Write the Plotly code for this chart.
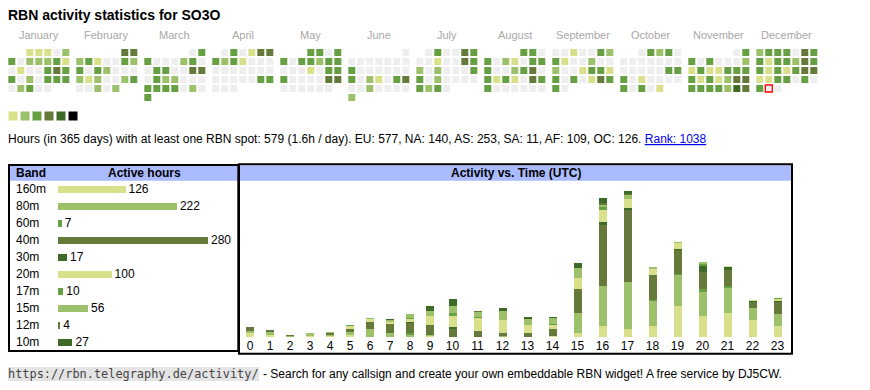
import datetime as dt
import plotly.graph_objects as go

W, H = 870, 390          # browser window
OFF = 8                  # default page margin around the plot div
FW, FH = W - OFF, H - OFF
FONT = "Liberation Sans, Arial, sans-serif"
MONO = "DejaVu Sans Mono, Liberation Mono, monospace"

# ---------------- data ----------------
TITLE = "RBN activity statistics for SO3O"
YEAR = 2025
MONTHS = ["January", "February", "March", "April", "May", "June", "July",
          "August", "September", "October", "November", "December"]
# activity level per day of each month (0 = no spot, 1..6 = colour scale)
DAY_LEVELS = [
    "11102" "3022231" "0100343" "3020333" "02300",
    "44" "2310032" "3032000" "2120023" "00202",
    "03" "3000230" "0330044" "0322000" "3333020" "3",
    "030144" "3231000" "0000000" "0000033" "000",
    "3303" "3033233" "0001033" "3000044" "000000",
    "0" "0000000" "3000000" "3021034" "0020000" "2",
    "030043" "0010043" "2020003" "3020000" "3230",
    "330" "3021033" "3002340" "3131043" "3000000",
    "0010032" "3100200" "2001331" "3030143" "30",
    "03230" "0000000" "0000033" "3010000" "30301",
    "03" "3030002" "1311333" "3131244" "3333254",
    "2333043" "3133243" "3131344" "1133030" "300",
]
TODAY = dt.date(2025, 12, 30)
LEVEL_COLORS = ["#eeeeee", "#d9e08b", "#9dc06b", "#67a043", "#64793a", "#3e6a27", "#000000"]

SUMMARY = ("Hours (in 365 days) with at least one RBN spot: 579 (1.6h / day). "
           "EU: 577, NA: 140, AS: 253, SA: 11, AF: 109, OC: 126. ")
RANK = "Rank: 1038"

BANDS = ["160m", "80m", "60m", "40m", "30m", "20m", "17m", "15m", "12m", "10m"]
BAND_HOURS = [126, 222, 7, 280, 17, 100, 10, 56, 4, 27]
BAND_LEVEL = [1, 2, 3, 4, 5, 1, 3, 2, 4, 5]

HOUR_LABELS = [str(h) for h in range(24)]
HOURLY = {
    "160m": [3, 2, 0, 1, 1, 2, 0, 0, 0, 1, 0, 0, 0, 0, 1, 3, 9, 7, 9, 26, 18, 20, 14, 9],
    "80m":  [2, 2, 1, 2, 1, 2, 7, 3, 2, 1, 0, 0, 1, 0, 0, 17, 34, 39, 21, 26, 20, 21, 10, 10],
    "60m":  [0, 0, 0, 0, 0, 0, 0, 0, 1, 0, 0, 0, 0, 0, 0, 0, 0, 0, 1, 1, 2, 2, 0, 0],
    "40m":  [3, 2, 1, 0, 1, 3, 6, 8, 9, 8, 7, 5, 2, 3, 6, 20, 51, 61, 21, 20, 15, 13, 5, 10],
    "30m":  [0, 0, 0, 0, 0, 0, 0, 0, 1, 0, 1, 0, 0, 0, 0, 0, 3, 1, 0, 1, 5, 3, 1, 1],
    "20m":  [0, 0, 0, 0, 0, 2, 2, 2, 2, 8, 10, 11, 11, 7, 3, 10, 10, 8, 5, 5, 0, 1, 1, 2],
    "17m":  [0, 0, 0, 0, 0, 1, 0, 0, 1, 0, 2, 1, 0, 0, 1, 0, 2, 0, 0, 0, 1, 0, 0, 1],
    "15m":  [0, 0, 0, 0, 1, 0, 1, 1, 3, 4, 6, 4, 8, 5, 5, 8, 2, 3, 2, 1, 2, 0, 0, 0],
    "12m":  [0, 0, 0, 0, 0, 0, 0, 0, 0, 0, 0, 1, 0, 0, 0, 0, 2, 1, 0, 0, 0, 0, 0, 0],
    "10m":  [0, 0, 0, 0, 0, 0, 0, 1, 0, 4, 6, 0, 2, 2, 1, 4, 4, 3, 0, 0, 0, 0, 0, 0],
}


# ---------------- helpers (window pixel -> paper, layout only) ----------------
def px(x):
    return (x - OFF) / FW


def py(y):
    return 1 - (y - OFF) / FH


def note(x, y, text, size=12, color="#000", anchor="left", family=FONT, **kw):
    d = dict(x=px(x), y=py(y), xref="paper", yref="paper", text=text, showarrow=False,
             xanchor=anchor, yanchor="middle", borderpad=0, borderwidth=0,
             font=dict(family=family, size=size, color=color))
    d.update(kw)
    return d


fig = go.Figure()

# ---------------- calendar heat map ----------------
CELL = 9.0
MONTH_STEP = 68 / CELL  # month block pitch in cell units
X0, Y0 = 11.8, 52.5     # window position of the first cell centre
cx, cy, cc = [], [], []
for m, levels in enumerate(DAY_LEVELS):
    first = dt.date(YEAR, m + 1, 1).weekday()
    for d, lv in enumerate(levels):
        cx.append(m * MONTH_STEP + (first + d) % 7)
        cy.append((first + d) // 7)
        cc.append(LEVEL_COLORS[int(lv)])

fig.add_trace(go.Scatter(
    x=cx, y=cy, mode="markers", xaxis="x3", yaxis="y3",
    marker=dict(symbol="square", size=7, color=cc, line=dict(width=0)),
    hoverinfo="skip", showlegend=False))

tf = dt.date(YEAR, TODAY.month, 1).weekday() + TODAY.day - 1
fig.add_trace(go.Scatter(
    x=[(TODAY.month - 1) * MONTH_STEP + tf % 7], y=[tf // 7], mode="markers",
    xaxis="x3", yaxis="y3",
    marker=dict(symbol="square", size=7,
                color=LEVEL_COLORS[int(DAY_LEVELS[TODAY.month - 1][TODAY.day - 1])],
                line=dict(width=1.3, color="#ff0000")),
    hoverinfo="skip", showlegend=False))

annotations = []
for m, name in enumerate(MONTHS):
    annotations.append(dict(x=m * MONTH_STEP + 3, y=-1.95, xref="x3", yref="y3", text=name,
                            showarrow=False, borderpad=0, borderwidth=0,
                            font=dict(family=FONT, size=11, color="#a8a8a8"),
                            xanchor="center", yanchor="middle"))

# ---------------- band table (horizontal bars) ----------------
fig.add_trace(go.Bar(
    x=BAND_HOURS, y=BANDS, orientation="h", xaxis="x", yaxis="y",
    marker=dict(color=[LEVEL_COLORS[l] for l in BAND_LEVEL], line=dict(width=0)),
    width=7 / 17, text=[str(v) for v in BAND_HOURS], textposition="outside",
    constraintext="none", cliponaxis=False,
    textfont=dict(family=FONT, size=12, color="#000"),
    hoverinfo="skip", showlegend=False))

for b in BANDS:
    annotations.append(dict(x=px(16), y=b, xref="paper", yref="y", text=b, showarrow=False,
                            xanchor="left", yanchor="middle", borderpad=0, borderwidth=0,
                            font=dict(family=FONT, size=12, color="#000")))

# ---------------- activity vs time (stacked bars) ----------------
col_w = [15 + 5 * len(lbl) for lbl in HOUR_LABELS]   # table columns size to their label
centers, acc = [], 0
for w in col_w:
    centers.append(acc + w / 2)
    acc += w

for b, lv in zip(BANDS, BAND_LEVEL):
    fig.add_trace(go.Bar(
        x=centers, y=HOURLY[b], width=8, xaxis="x2", yaxis="y2",
        marker=dict(color=LEVEL_COLORS[lv], line=dict(width=0)),
        hoverinfo="skip", showlegend=False, name=b))

# ---------------- decorations ----------------
shapes = []
for i, col in enumerate(LEVEL_COLORS[1:]):
    shapes.append(dict(type="rect", xref="paper", yref="paper",
                       x0=px(8.5 + 12 * i), x1=px(17.5 + 12 * i), y0=py(120.5), y1=py(111.5),
                       fillcolor=col, line=dict(width=0)))
shapes.append(dict(type="rect", xref="paper", yref="paper", x0=px(10), x1=px(237.5),
                   y0=py(180.7), y1=py(165.5), fillcolor="#aabbff", line=dict(width=0), layer="below"))
shapes.append(dict(type="rect", xref="paper", yref="paper", x0=px(240), x1=px(791.5),
                   y0=py(180.7), y1=py(165.5), fillcolor="#aabbff", line=dict(width=0), layer="below"))
shapes.append(dict(type="rect", xref="paper", yref="paper", x0=px(9), x1=px(238.3),
                   y0=py(351), y1=py(165), line=dict(width=2, color="#000")))
shapes.append(dict(type="rect", xref="paper", yref="paper", x0=px(239), x1=px(792),
                   y0=py(353.7), y1=py(164.3), line=dict(width=2, color="#000")))

annotations += [
    note(8, 15.5, "<b>" + TITLE + "</b>", size=14),
    note(8, 138.5, SUMMARY + "<span style='color:#0000ee'><u>" + RANK + "</u></span>"),
    note(16, 173.3, "<b>Band</b>"),
    note(144, 173.3, "<b>Active hours</b>", anchor="center"),
    note(516, 173.3, "<b>Activity vs. Time (UTC)</b>", anchor="center"),
    note(8, 374, "https://rbn.telegraphy.de/activity/", size=11.9, color="#444",
         family=MONO, bgcolor="#e4e4e4"),
    note(262.5, 374, "- Search for any callsign and create your own embeddable RBN widget! "
                     "A free service by DJ5CW."),
]

PX_PER_HOUR = 1.19
fig.update_layout(
    width=FW, height=FH, margin=dict(l=0, r=0, t=0, b=0),
    paper_bgcolor="#ffffff", plot_bgcolor="rgba(0,0,0,0)",
    barmode="stack", showlegend=False, hovermode=False,
    shapes=shapes, annotations=annotations,
    xaxis=dict(domain=[px(58), px(208)], range=[0, 280], visible=False, fixedrange=True),
    yaxis=dict(domain=[py(350.5), py(181)], type="category", categoryorder="array",
               categoryarray=BANDS, autorange="reversed", visible=False, fixedrange=True),
    xaxis2=dict(domain=[px(240), px(790)], range=[0, acc], anchor="y2",
                tickmode="array", tickvals=centers, ticktext=HOUR_LABELS,
                showgrid=False, zeroline=False, showline=False, ticks="",
                tickfont=dict(family=FONT, size=12, color="#000"), fixedrange=True),
    yaxis2=dict(domain=[py(337), py(187)], range=[0, 150 / PX_PER_HOUR], anchor="x2",
                visible=False, fixedrange=True),
    xaxis3=dict(domain=[0, 1], range=[-(X0 - OFF) / CELL, (FW - (X0 - OFF)) / CELL],
                visible=False, anchor="y3", fixedrange=True),
    yaxis3=dict(domain=[0, 1], range=[(FH - (Y0 - OFF)) / CELL, -(Y0 - OFF) / CELL],
                visible=False, anchor="x3", fixedrange=True),
)

fig.write_html("out.html", config={"displayModeBar": False, "staticPlot": True})
